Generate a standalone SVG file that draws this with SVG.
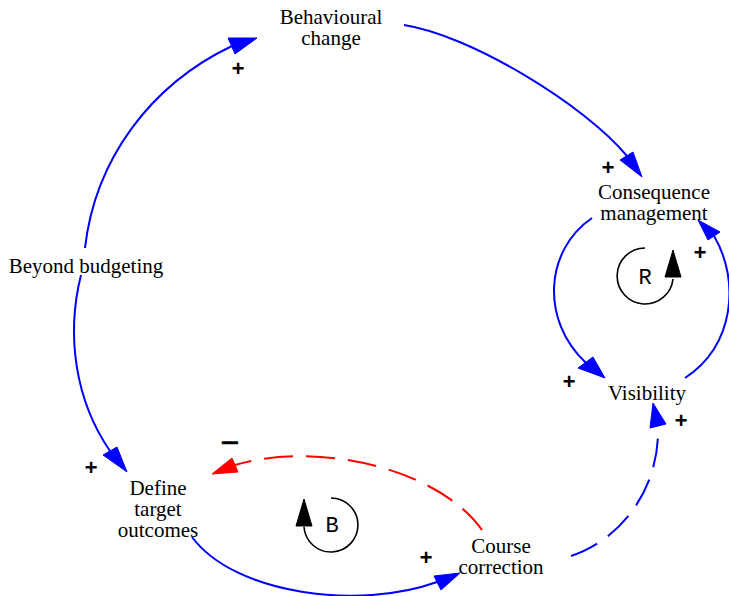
<svg xmlns="http://www.w3.org/2000/svg" width="729" height="596" viewBox="0 0 729 596">
<style>
.lbl{font-family:"Liberation Serif","Times New Roman",serif;font-size:21px;fill:#000;text-anchor:middle}
.e{fill:none;stroke-width:2}
.pos{stroke:#0000ff}
.neg{stroke:#ff0000}
.dash{stroke-dasharray:29,13}
.ahb{fill:#0000ff;stroke:#0000ff;stroke-width:1}
.ahr{fill:#ff0000;stroke:#ff0000;stroke-width:1}
.sign{font-family:"Liberation Mono","Courier New",monospace;font-size:22px;font-weight:bold;fill:#000;text-anchor:middle}
.minus{font-family:"DejaVu Sans",sans-serif;font-size:26px;font-weight:bold;fill:#000;text-anchor:middle}
.loop{fill:none;stroke:#000;stroke-width:1.6}
.loopah{fill:#000;stroke:#000;stroke-width:1}
.looplbl{font-family:"Liberation Mono","Courier New",monospace;font-size:22px;fill:#000;text-anchor:middle}
</style>
<rect width="729" height="596" fill="#fff"/>
<g id="connectors">
  <g id="e-beyond-behavioural">
    <path class="e pos" d="M85,248 C95,160 150,85 232,46"/>
    <polygon class="ahb" points="257,38 228,38 235,54"/>
    <text class="sign" x="238" y="76">+</text>
  </g>
  <g id="e-beyond-define">
    <path class="e pos" d="M81,275 C66,335 75,400 110,451"/>
    <polygon class="ahb" points="127,472 103,455 117,447"/>
    <text class="sign" x="91" y="475">+</text>
  </g>
  <g id="e-behavioural-consequence">
    <path class="e pos" d="M404,25 C470,35 585,105 627,156"/>
    <polygon class="ahb" points="642,177 620,160 633,152"/>
    <text class="sign" x="608" y="175">+</text>
  </g>
  <g id="e-consequence-visibility">
    <path class="e pos" d="M592,218 C545,250 540,320 586,363"/>
    <polygon class="ahb" points="605,378 578,368 593,357"/>
    <text class="sign" x="569" y="389">+</text>
  </g>
  <g id="e-visibility-consequence">
    <path class="e pos" d="M685,378 C735,345 740,280 714,236"/>
    <polygon class="ahb" points="698,220 708,240 720,232"/>
    <text class="sign" x="700" y="260">+</text>
  </g>
  <g id="e-course-visibility">
    <path class="e pos dash" d="M571,556 C620,540 660,490 658,426"/>
    <polygon class="ahb" points="653,403 650,428 666,424"/>
    <text class="sign" x="681" y="428">+</text>
  </g>
  <g id="e-define-course">
    <path class="e pos" d="M192,537 C235,595 360,610 437,582"/>
    <polygon class="ahb" points="460,573 434,576 441,590"/>
    <text class="sign" x="426" y="565">+</text>
  </g>
  <g id="e-course-define">
    <path class="e neg dash" d="M482,530 C440,470 320,440 235,465"/>
    <polygon class="ahr" points="212,474 232,458 238,472"/>
    <text class="minus" x="230" y="451">−</text>
  </g>
</g>
<g id="loop-R">
  <path class="loop" d="M645,248 A28,28 0 1 0 673,279"/>
  <polygon class="loopah" points="673,250 665,277 681,277"/>
  <text class="looplbl" x="645" y="284">R</text>
</g>
<g id="loop-B">
  <path class="loop" d="M331,498 A27,27 0 1 1 304,527"/>
  <polygon class="loopah" points="304,499 296,526 312,526"/>
  <text class="looplbl" x="332" y="532">B</text>
</g>
<g id="node-behavioural">
  <text class="lbl" x="331" y="24">Behavioural<tspan x="331" dy="21">change</tspan></text>
</g>
<g id="node-consequence">
  <text class="lbl" x="654" y="199">Consequence<tspan x="654" dy="21">management</tspan></text>
</g>
<g id="node-visibility">
  <text class="lbl" x="647" y="400">Visibility</text>
</g>
<g id="node-beyond">
  <text class="lbl" x="86" y="273">Beyond budgeting</text>
</g>
<g id="node-define">
  <text class="lbl" x="158" y="495">Define<tspan x="158" dy="21">target</tspan><tspan x="158" dy="21">outcomes</tspan></text>
</g>
<g id="node-course">
  <text class="lbl" x="501" y="553">Course<tspan x="501" dy="21">correction</tspan></text>
</g>
</svg>
